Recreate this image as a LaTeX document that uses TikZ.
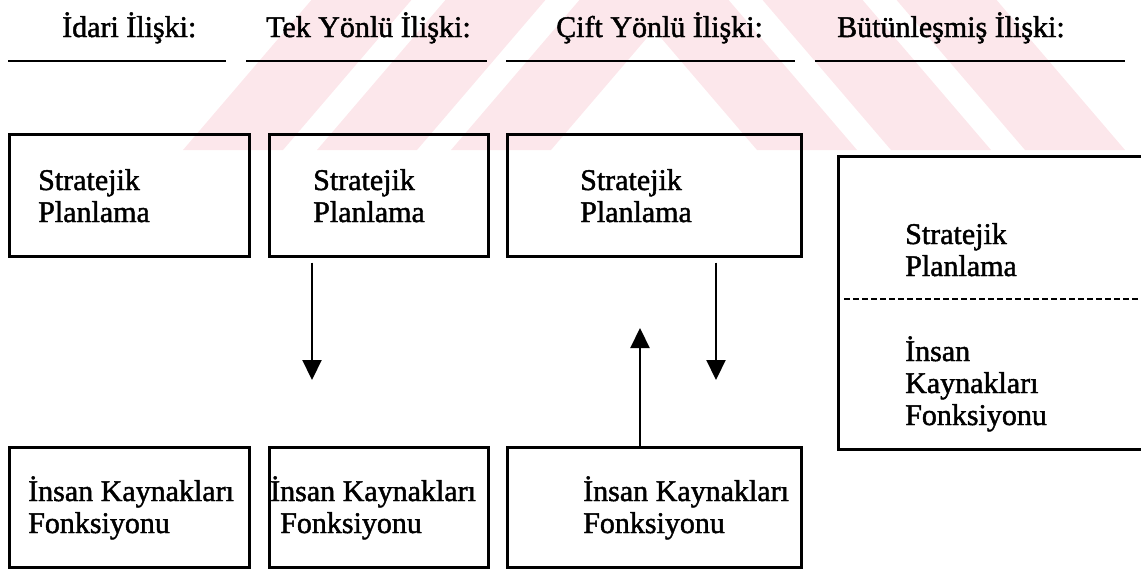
\documentclass[tikz,border=0pt]{standalone}
\usepackage{fontspec}
\setmainfont{Liberation Serif}
\newfontfamily\scanserif{Liberation Serif}[FakeBold=1.5]
\usetikzlibrary{arrows.meta}
\definecolor{wmpink}{RGB}{252,231,235}
\begin{document}
\begin{tikzpicture}[x=1pt,y=-1pt,
  box/.style={draw=black, line width=2.5pt, inner sep=0pt, anchor=north west},
  rule/.style={line width=2.5pt},
  lbl/.style={anchor=base west, inner sep=0pt, font=\scanserif\fontsize{30}{32}\selectfont, align=left},
  arr/.style={line width=2.2pt, -{Triangle[width=19pt,length=20pt]}},
  sep/.style={line width=1.8pt, dash pattern=on 6pt off 3pt}
]
\useasboundingbox (0,0) rectangle (1141,570);
\clip (0,0) rectangle (1141,570);

% background mark: nested chevrons in pale pink
\begin{scope}
  \clip (0,0) rectangle (1141,150);
  \foreach \k in {0,1,2}{
    \pgfmathsetmacro{\xo}{183+134*\k}
    \pgfmathsetmacro{\xi}{283+134*\k}
    \pgfmathsetmacro{\yo}{150-(654-\xo)/0.856}
    \pgfmathsetmacro{\yi}{150-(654-\xi)/0.856}
    \fill[wmpink] (\xo,150) -- (654,\yo) -- ({1308-\xo},150) -- ({1308-\xi},150)
      -- (654,\yi) -- (\xi,150) -- cycle;
  }
\end{scope}

% column headings (anchored at the baseline)
\node[lbl] (h1) at (62,37) {İdari İlişki:};
\node[lbl] (h2) at (266,37) {Tek Yönlü İlişki:};
\node[lbl] (h3) at (556,37) {Çift Yönlü İlişki:};
\node[lbl] (h4) at (837,37) {Bütünleşmiş İlişki:};

% rules under the headings
\coordinate (u1a) at (8,61);   \coordinate (u1b) at (226,61);
\coordinate (u2a) at (246,61); \coordinate (u2b) at (487,61);
\coordinate (u3a) at (506,61); \coordinate (u3b) at (795,61);
\coordinate (u4a) at (815,61); \coordinate (u4b) at (1125,61);
\draw[rule] (u1a) -- (u1b);
\draw[rule] (u2a) -- (u2b);
\draw[rule] (u3a) -- (u3b);
\draw[rule] (u4a) -- (u4b);

% strategic planning boxes (label position = baseline of the last line)
\node[box, minimum width=240pt, minimum height=122pt] (sp1) at (8,133) {};
\node[box, minimum width=219pt, minimum height=122pt] (sp2) at (268,133) {};
\node[box, minimum width=294pt, minimum height=122pt] (sp3) at (506,133) {};
\node[lbl] (tsp1) at (38,222) {Stratejik\\Planlama};
\node[lbl] (tsp2) at (313,222) {Stratejik\\Planlama};
\node[lbl] (tsp3) at (580,222) {Stratejik\\Planlama};

% human resources boxes
\node[box, minimum width=240pt, minimum height=120pt] (ik1) at (8,446) {};
\node[box, minimum width=219pt, minimum height=120pt] (ik2) at (268,446) {};
\node[box, minimum width=294pt, minimum height=120pt] (ik3) at (506,446) {};
\node[lbl] (tik1) at (28,533) {İnsan Kaynakları\\Fonksiyonu};
\node[lbl] (tik2) at (270,533) {İnsan Kaynakları\\\hspace*{10pt}Fonksiyonu};
\node[lbl] (tik3) at (583,533) {İnsan Kaynakları\\Fonksiyonu};

% integrated box, split by a dashed line
\node[box, minimum width=330pt, minimum height=293pt] (bt) at (837,155) {};
\coordinate (dl) at (844,299);
\draw[sep] (dl) -- (dl -| bt.east);
\node[lbl] (tbt1) at (905,276) {Stratejik\\Planlama};
\node[lbl] (tbt2) at (905,425) {İnsan\\Kaynakları\\Fonksiyonu};

% arrows
\coordinate (a2) at (312,380);
\coordinate (a3d) at (716,380);
\coordinate (a3u) at (640,328);
\draw[arr, shorten <=5pt] (sp2.south -| a2) -- (a2);
\draw[arr, shorten <=5pt] (sp3.south -| a3d) -- (a3d);
\draw[arr] (ik3.north -| a3u) -- (a3u);
\end{tikzpicture}
\end{document}
